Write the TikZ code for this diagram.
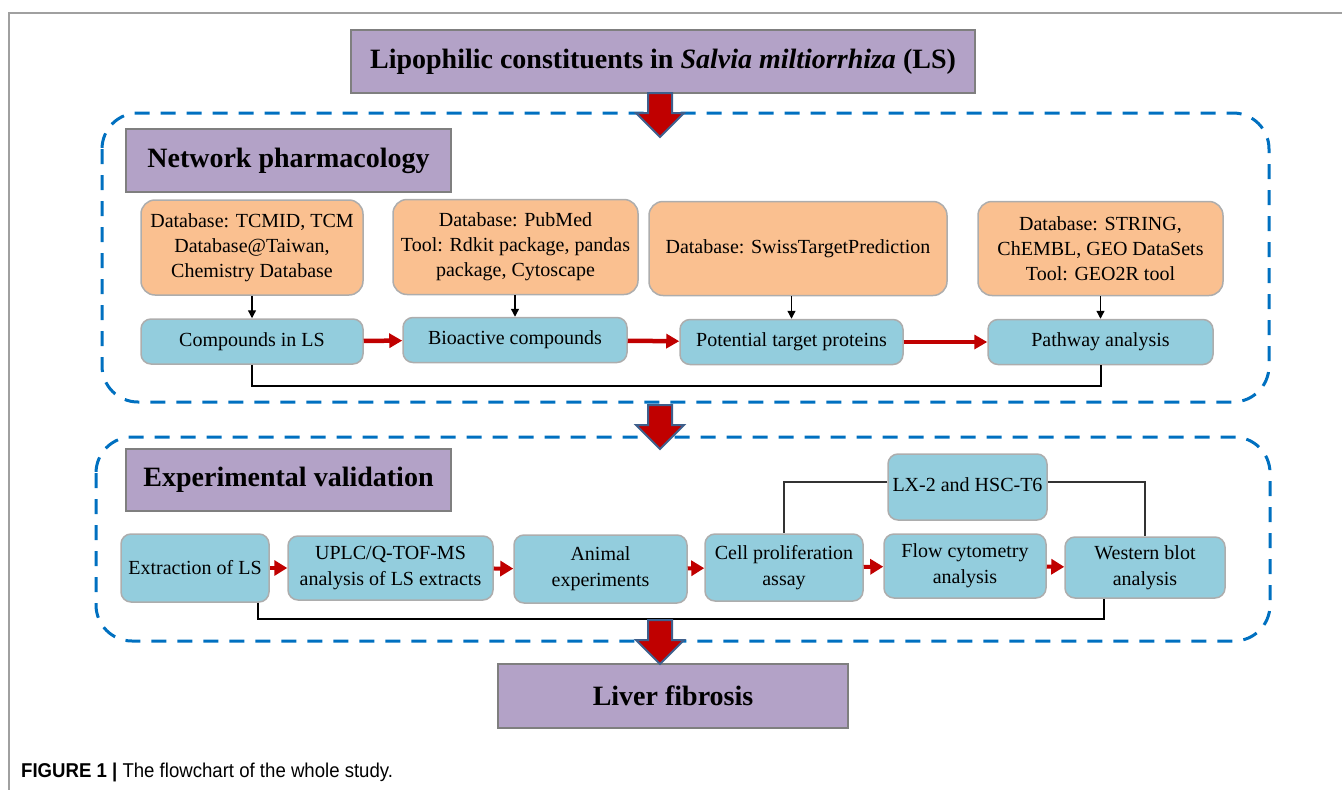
\documentclass[tikz,border=0pt]{standalone}
\usepackage{fontspec}
\setmainfont{Liberation Serif}
\newfontfamily\capfont[FakeStretch=0.93]{Liberation Sans}
\usetikzlibrary{arrows.meta}

\definecolor{headpurple}{HTML}{B3A2C7}
\definecolor{headgray}{HTML}{7F7F7F}
\definecolor{dborange}{HTML}{FAC090}
\definecolor{stepblue}{HTML}{93CDDD}
\definecolor{boxgray}{HTML}{ADADAD}
\definecolor{dashblue}{HTML}{0070C0}
\definecolor{arrowred}{HTML}{C00000}
\definecolor{arrowrim}{HTML}{3E5F8C}
\definecolor{framegray}{HTML}{A0A0A0}

\tikzset{
  headbox/.style={draw=headgray, fill=headpurple, line width=1.5pt, inner sep=0pt,
    font=\fontsize{28}{32}\selectfont\bfseries},
  dbbox/.style={draw=boxgray, fill=dborange, rounded corners=14pt, line width=1.5pt,
    inner sep=0pt, align=center, font=\fontsize{20}{25}\selectfont},
  stepbox/.style={draw=boxgray, fill=stepblue, rounded corners=10pt, line width=1.5pt,
    inner sep=0pt, align=center, font=\fontsize{20}{26}\selectfont},
  dashbox/.style={draw=dashblue, line width=3pt, dash pattern=on 15pt off 11pt, rounded corners=36pt},
  redarrow/.style={draw=arrowred, line width=4.5pt, -{Triangle[length=13pt,width=14pt]}},
  shortred/.style={draw=arrowred, line width=4pt, -{Triangle[length=13pt,width=15pt]}},
  blkarrow/.style={line width=1.3pt, -{Triangle[length=8pt,width=8pt]}},
  link/.style={line width=2pt},
  thinlink/.style={line width=1.2pt, draw=black!80},
  bigarrow/.style={fill=arrowred, draw=arrowrim, line width=2pt, line join=miter},
}

% block arrow, top centre given
\newcommand{\blockarrow}[1]{%
  \draw[bigarrow] (#1) ++(-12,0) -- ++(0,20) -- ++(-12,0) -- ++(24,24) -- ++(24,-24)
    -- ++(-12,0) -- ++(0,-20) -- cycle;}

\begin{document}
\begin{tikzpicture}[x=1pt, y=-1pt]
    \useasboundingbox (0,0) rectangle (1342,790);
    % page frame
    \draw[framegray, line width=1.5pt] (9,790) -- (9,13) -- (1342,13);

    % dashed groups
    \draw[dashbox] (102,113) rectangle (1269,402);
    \draw[dashbox] (96,437) rectangle (1270,641);

    % main titles
    \node[headbox, minimum width=624pt, minimum height=63pt] (top) at (663,61.5)
        {Lipophilic constituents in \textit{Salvia miltiorrhiza} (LS)};
    \node[headbox, minimum width=325pt, minimum height=63pt] (np) at (288.5,160.5) {Network pharmacology};
    \node[headbox, minimum width=325pt, minimum height=62pt] (ev) at (288.5,480) {Experimental validation};
    \node[headbox, minimum width=350pt, minimum height=64pt] (liver) at (673,696) {Liver fibrosis};

    % databases
    \node[dbbox, minimum width=222pt, minimum height=95pt] (db1) at (252,247.5)
        {Database: TCMID, TCM\\Database@Taiwan,\\Chemistry Database};
    \node[dbbox, minimum width=245pt, minimum height=95pt] (db2) at (515.5,247)
        {Database: PubMed\\Tool: Rdkit package, pandas\\package, Cytoscape};
    \node[dbbox, minimum width=298pt, minimum height=94pt] (db3) at (798,248.5)
        {Database: SwissTargetPrediction};
    \node[dbbox, minimum width=245pt, minimum height=94pt] (db4) at (1100.5,248.5)
        {Database: STRING,\\ChEMBL, GEO DataSets\\Tool: GEO2R tool};

    % network steps
    \node[stepbox, minimum width=222pt, minimum height=45pt] (cmp) at (252,341.5) {Compounds in LS};
    \node[stepbox, minimum width=224pt, minimum height=45pt] (bio) at (515,340) {Bioactive compounds};
    \node[stepbox, minimum width=223pt, minimum height=45pt] (tgt) at (791.5,342) {Potential target proteins};
    \node[stepbox, minimum width=225pt, minimum height=45pt] (pwy) at (1100.5,342) {Pathway analysis};

    \draw[blkarrow] (db1.south) -- (cmp.north);
    \draw[blkarrow] (bio.north |- db2.south) -- (bio.north);
    \draw[blkarrow] (tgt.north |- db3.south) -- (tgt.north);
    \draw[blkarrow] (pwy.north |- db4.south) -- (pwy.north);
    \draw[redarrow] (cmp) -- (bio);
    \draw[redarrow] (bio) -- (tgt);
    \draw[redarrow] (tgt) -- (pwy);
    \draw[link] (cmp.south) -- ++(0,21) -| (pwy.south);

    % experiments
    \node[stepbox, minimum width=148pt, minimum height=68pt] (ext) at (195,568) {Extraction of LS};
    \node[stepbox, minimum width=205pt, minimum height=64pt] (uplc) at (390.5,568)
        {UPLC/Q-TOF-MS\\analysis of LS extracts};
    \node[stepbox, minimum width=173pt, minimum height=68pt] (ani) at (600.5,569) {Animal\\experiments};
    \node[stepbox, minimum width=158pt, minimum height=67pt] (cell) at (784,567.5) {Cell proliferation\\assay};
    \node[stepbox, minimum width=162pt, minimum height=64pt] (flow) at (965,566) {Flow cytometry\\analysis};
    \node[stepbox, minimum width=160pt, minimum height=61pt] (wb) at (1145,567.5) {Western blot\\analysis};
    \node[stepbox, minimum width=159pt, minimum height=66pt] (lx) at (967.5,487) {\raisebox{5pt}{LX-2 and HSC-T6}};

    \draw[shortred] (ext) -- (uplc);
    \draw[shortred] (uplc) -- (ani);
    \draw[shortred] (ani) -- (cell);
    \draw[shortred] (cell) -- (flow);
    \draw[shortred] (flow) -- (wb);
    \draw[thinlink] ([yshift=5pt]lx.west) -| (cell.north);
    \draw[thinlink] ([yshift=5pt]lx.east) -| (wb.north);
    \draw[link] ([xshift=-12pt]ext.south east) -- ++(0,16) -| ([xshift=40pt]wb.south west);

    % big arrows
    \blockarrow{660,93}
    \blockarrow{660,405}
    \blockarrow{660,620}

    % caption
    \node[anchor=west, inner sep=0pt, font=\capfont\fontsize{20}{23}\selectfont] (cap) at (21,772)
        {\textbf{FIGURE 1 |} The flowchart of the whole study.};
\end{tikzpicture}
\end{document}
